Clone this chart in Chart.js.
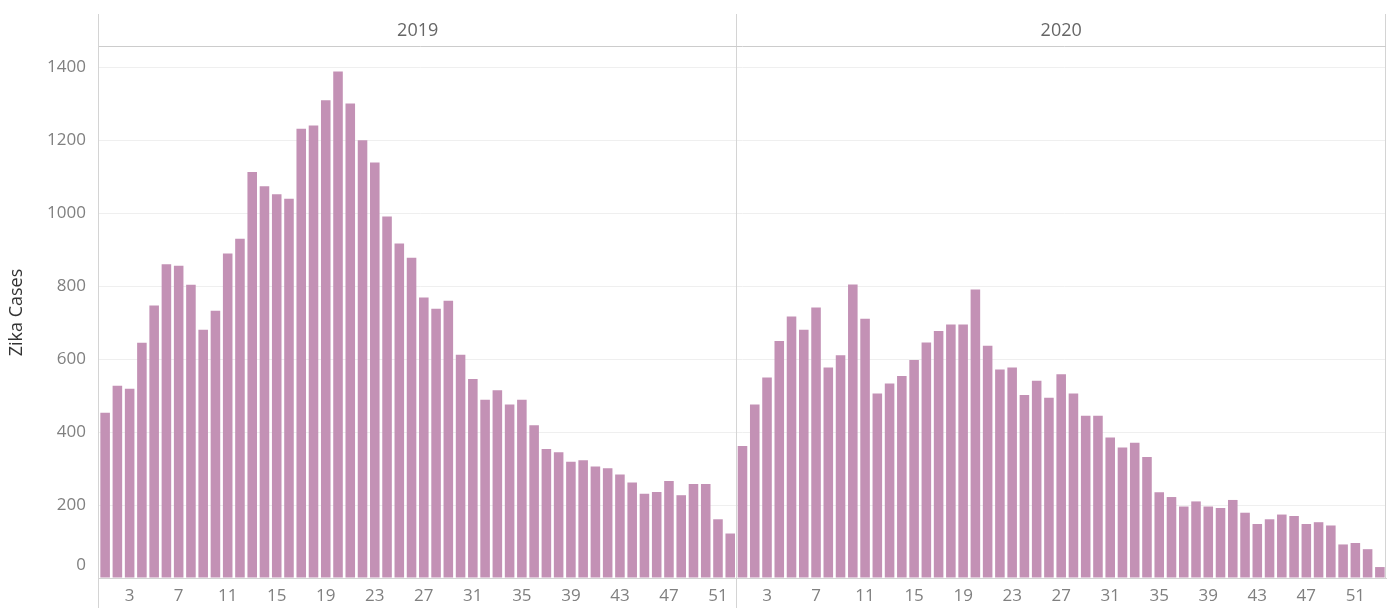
<!DOCTYPE html>
<html>
<head>
<meta charset="utf-8">
<script src="https://cdn.jsdelivr.net/npm/chart.js@4.4.1/dist/chart.umd.min.js"></script>
<style>
  html, body { margin: 0; padding: 0; background: #ffffff; }
  canvas { display: block; }
</style>
</head>
<body>
<canvas id="chart" width="1392" height="608"></canvas>
<script>
const years = ["2019", "2020"];
const weeks2019 = Array.from({ length: 52 }, (_, i) => i + 1);
const weeks2020 = Array.from({ length: 53 }, (_, i) => i + 1);
const cases2019 = [
  453, 527, 519, 645, 747, 860, 856, 804, 681, 733,
  890, 930, 1113, 1074, 1052, 1040, 1232, 1241, 1310, 1389,
  1301, 1200, 1139, 991, 917, 878, 769, 738, 760, 612,
  546, 489, 515, 476, 489, 419, 354, 345, 319, 323,
  306, 301, 284, 262, 231, 236, 266, 227, 258, 258,
  161, 122,
];
const cases2020 = [
  362, 476, 550, 650, 717, 681, 742, 577, 611, 805,
  711, 506, 533, 554, 598, 646, 677, 695, 695, 791,
  637, 572, 577, 502, 541, 494, 559, 506, 445, 445,
  385, 358, 371, 332, 235, 222, 196, 210, 196, 192,
  214, 179, 148, 161, 174, 170, 148, 153, 144, 92,
  96, 79, 30,
];
const yTicks = [0, 200, 400, 600, 800, 1000, 1200, 1400];

const labels = [
  ...weeks2019.map((w) => `${years[0]} W${w}`),
  ...weeks2020.map((w) => `${years[1]} W${w}`),
];
const weekNumbers = [...weeks2019, ...weeks2020];
const values = [...cases2019, ...cases2020];

const FONT = "'Open Sans', 'DejaVu Sans', sans-serif";
const LINE = "#d4d4d4";

const panelPlugin = {
  id: "panels",
  afterDraw(chart) {
    const { ctx, chartArea, scales } = chart;
    const x = scales.x;
    const split = (x.getPixelForValue(weeks2019.length - 1) + x.getPixelForValue(weeks2019.length)) / 2;
    const top = 14;
    ctx.save();
    ctx.strokeStyle = LINE;
    ctx.lineWidth = 1;
    ctx.beginPath();
    ctx.moveTo(Math.round(chartArea.left) - 0.5, top);
    ctx.lineTo(Math.round(chartArea.left) - 0.5, chart.height);
    ctx.moveTo(Math.round(split) + 0.5, top);
    ctx.lineTo(Math.round(split) + 0.5, chart.height);
    ctx.moveTo(Math.round(chartArea.right) - 0.5, top);
    ctx.lineTo(Math.round(chartArea.right) - 0.5, chartArea.bottom);
    ctx.stroke();
    ctx.strokeStyle = "#cccccc";
    ctx.beginPath();
    ctx.moveTo(chartArea.left, Math.round(chartArea.top) - 0.5);
    ctx.lineTo(chartArea.right, Math.round(chartArea.top) - 0.5);
    ctx.stroke();

    // panel headers
    ctx.fillStyle = "#666666";
    ctx.font = `18px ${FONT}`;
    ctx.textAlign = "center";
    ctx.textBaseline = "middle";
    ctx.fillText(years[0], (chartArea.left + split) / 2, 31);
    ctx.fillText(years[1], (split + chartArea.right) / 2, 31);

    // tableau nudges the zero label up off the baseline
    ctx.fillStyle = "#808080";
    ctx.font = `17px ${FONT}`;
    ctx.textAlign = "right";
    ctx.fillText(String(yTicks[0]), chartArea.left - 13, scales.y.getPixelForValue(0) - 13);
    ctx.restore();
  },
};

new Chart(document.getElementById("chart"), {
  type: "bar",
  data: {
    labels,
    datasets: [{
      label: "Zika Cases",
      data: values,
      backgroundColor: "#c391b5",
      borderWidth: 0,
      categoryPercentage: 1,
      barPercentage: 0.78,
    }],
  },
  options: {
    responsive: false,
    animation: false,
    devicePixelRatio: 1,
    layout: { padding: { left: 0, right: 6, top: 47, bottom: 0 } },
    plugins: {
      legend: { display: false },
      tooltip: { enabled: false },
    },
    scales: {
      x: {
        offset: true,
        grid: { display: false, drawTicks: false },
        border: { display: true, color: LINE },
        ticks: {
          autoSkip: false,
          maxRotation: 0,
          padding: 8,
          color: "#808080",
          font: { family: FONT, size: 17 },
          callback: (_v, i) => ((weekNumbers[i] - 3) % 4 === 0 ? String(weekNumbers[i]) : ""),
        },
        afterFit: (scale) => { scale.height = 30; },
      },
      y: {
        min: 0,
        max: 1456,
        grid: {
          drawTicks: false,
          color: (c) => (c.tick && c.tick.value === 0 ? "rgba(0,0,0,0)" : "#efefef"),
        },
        border: { display: false },
        afterBuildTicks: (scale) => { scale.ticks = yTicks.map((v) => ({ value: v })); },
        ticks: {
          padding: 13,
          color: "#808080",
          font: { family: FONT, size: 17 },
          callback: (v) => (v === 0 ? "" : String(v)),
        },
        title: {
          display: true,
          text: "Zika Cases",
          color: "#333333",
          font: { family: FONT, size: 18 },
          padding: { top: 6, bottom: 0 },
        },
        afterFit: (scale) => { scale.width = 99; },
      },
    },
  },
  plugins: [panelPlugin],
});
</script>
</body>
</html>
